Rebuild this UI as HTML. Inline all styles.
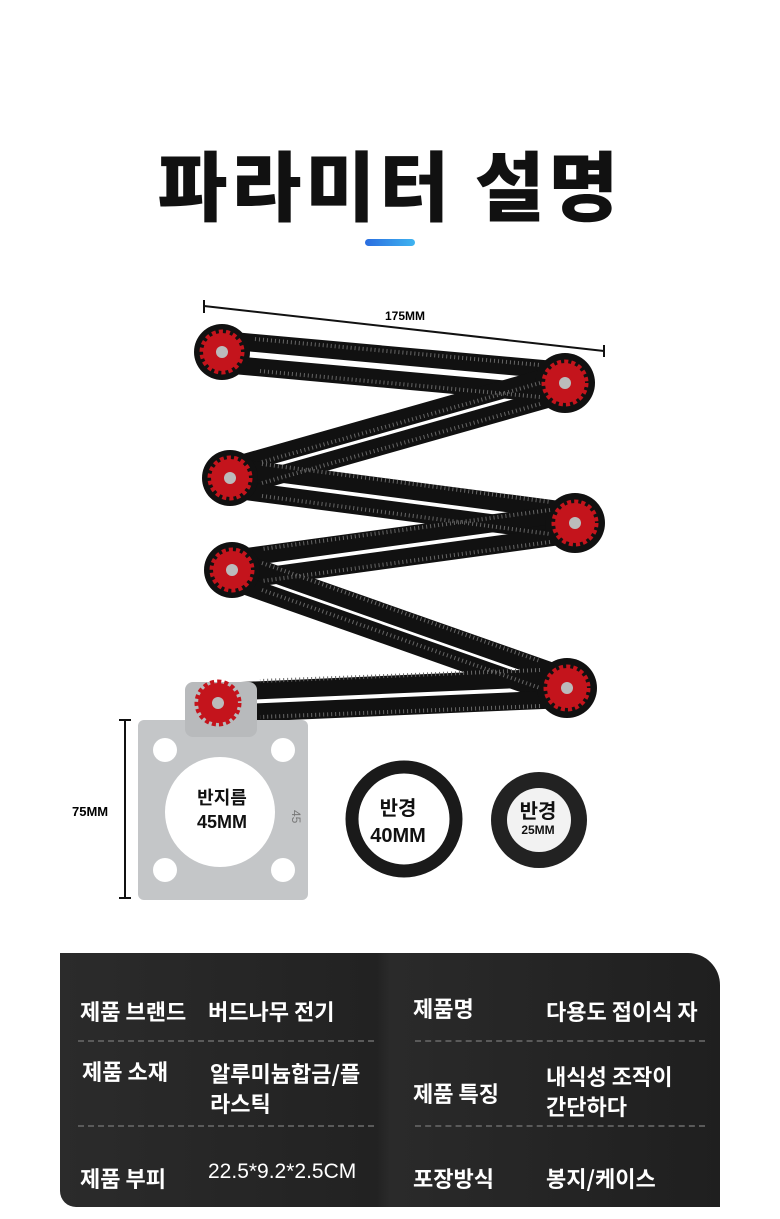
<!DOCTYPE html>
<html><head><meta charset="utf-8"><style>
body{margin:0;background:#fff;}
.wrap{position:relative;width:780px;height:1219px;overflow:hidden;background:#fff;font-family:"Liberation Sans","Noto Sans CJK KR",sans-serif;}
.title{position:absolute;left:0;width:780px;top:132px;text-align:center;font-size:76px;font-weight:900;color:#111;letter-spacing:4px;line-height:100px;font-family:"Noto Sans CJK KR","NanumGothic",sans-serif;}
.bar{position:absolute;left:365px;top:239px;width:50px;height:7px;border-radius:4px;background:linear-gradient(90deg,#2a6de0,#3fb4f0);}
.t{position:absolute;color:#fff;font-size:22px;font-weight:700;font-family:"Noto Sans CJK KR","NanumGothic",sans-serif;line-height:30px;}
</style></head><body><div class="wrap">
<div class="title">파라미터 설명</div>
<div class="bar"></div>
<svg width="780" height="950" style="position:absolute;left:0;top:0">
<line x1="204" y1="306" x2="604" y2="351" stroke="#111" stroke-width="2"/>
<line x1="204" y1="300" x2="204" y2="313" stroke="#111" stroke-width="2"/>
<line x1="604" y1="345" x2="604" y2="357" stroke="#111" stroke-width="2"/>
<text x="405" y="320" font-size="12" font-weight="700" text-anchor="middle" font-family="Liberation Sans">175MM</text>
<g stroke="#111" stroke-width="18" stroke-linecap="round">
<line x1="222" y1="340" x2="565" y2="371"/><line x1="222" y1="364" x2="565" y2="395"/>
<line x1="565" y1="372" x2="230" y2="467"/><line x1="565" y1="394" x2="230" y2="489"/>
<line x1="230" y1="467" x2="575" y2="512"/><line x1="230" y1="489" x2="575" y2="534"/>
<line x1="575" y1="512" x2="232" y2="559"/><line x1="575" y1="534" x2="232" y2="581"/>
<line x1="232" y1="559" x2="567" y2="677"/><line x1="232" y1="581" x2="567" y2="699"/>
<line x1="567" y1="677" x2="218" y2="692"/><line x1="567" y1="699" x2="218" y2="714"/>
</g>
<g fill="#111"><circle cx="222" cy="352" r="28"/><circle cx="565" cy="383" r="30"/><circle cx="230" cy="478" r="28"/><circle cx="575" cy="523" r="30"/><circle cx="232" cy="570" r="28"/><circle cx="567" cy="688" r="30"/></g>
<g stroke="#666" stroke-width="4" stroke-dasharray="1 3">
<line x1="255" y1="339" x2="540" y2="365"/><line x1="260" y1="371" x2="540" y2="397"/>
<line x1="540" y1="383" x2="262" y2="462"/><line x1="540" y1="404" x2="262" y2="483"/>
<line x1="262" y1="464" x2="550" y2="502"/><line x1="262" y1="496" x2="550" y2="534"/>
<line x1="550" y1="510" x2="262" y2="549"/><line x1="550" y1="542" x2="262" y2="581"/>
<line x1="262" y1="563" x2="540" y2="661"/><line x1="262" y1="590" x2="540" y2="688"/>
<line x1="540" y1="670" x2="260" y2="681"/><line x1="540" y1="706" x2="260" y2="717"/>
</g>
<rect x="138" y="720" width="170" height="180" rx="6" fill="#c4c6c8"/>
<rect x="185" y="682" width="72" height="55" rx="8" fill="#b8babc"/>
<circle cx="220" cy="812" r="55" fill="#fff"/>
<circle cx="165" cy="750" r="12" fill="#fff"/><circle cx="283" cy="750" r="12" fill="#fff"/>
<circle cx="165" cy="870" r="12" fill="#fff"/><circle cx="283" cy="870" r="12" fill="#fff"/>
<text x="292" y="810" font-size="12" fill="#777" transform="rotate(90 292 810)">45</text>
<g fill="#c4141c"><circle cx="222" cy="352" r="19"/><circle cx="565" cy="383" r="20"/><circle cx="230" cy="478" r="19"/><circle cx="575" cy="523" r="20"/><circle cx="232" cy="570" r="19"/><circle cx="567" cy="688" r="20"/><circle cx="218" cy="703" r="20"/></g>
<g fill="none" stroke="#c4141c" stroke-width="5" stroke-dasharray="4 3"><circle cx="222" cy="352" r="20"/><circle cx="565" cy="383" r="21"/><circle cx="230" cy="478" r="20"/><circle cx="575" cy="523" r="21"/><circle cx="232" cy="570" r="20"/><circle cx="567" cy="688" r="21"/><circle cx="218" cy="703" r="21"/></g>
<g fill="#bbb"><circle cx="222" cy="352" r="6"/><circle cx="565" cy="383" r="6"/><circle cx="230" cy="478" r="6"/><circle cx="575" cy="523" r="6"/><circle cx="232" cy="570" r="6"/><circle cx="567" cy="688" r="6"/><circle cx="218" cy="703" r="6"/></g>
<line x1="125" y1="720" x2="125" y2="898" stroke="#111" stroke-width="2"/>
<line x1="119" y1="720" x2="131" y2="720" stroke="#111" stroke-width="2"/><line x1="119" y1="898" x2="131" y2="898" stroke="#111" stroke-width="2"/>
<text x="72" y="816" font-size="13" font-weight="700" font-family="Liberation Sans">75MM</text>
<circle cx="404" cy="819" r="52" fill="none" stroke="#1a1a1a" stroke-width="13"/>
<circle cx="539" cy="820" r="48" fill="#222"/><circle cx="539" cy="820" r="32" fill="#f2f2f2"/>
<g font-family="Noto Sans CJK KR,sans-serif" font-weight="700" text-anchor="middle" fill="#111">
<text x="222" y="804" font-size="18">반지름</text><text x="222" y="828" font-size="18" font-family="Liberation Sans">45MM</text>
<text x="398" y="815" font-size="20">반경</text><text x="398" y="842" font-size="20" font-family="Liberation Sans">40MM</text>
<text x="538" y="818" font-size="20">반경</text><text x="538" y="834" font-size="12" font-family="Liberation Sans">25MM</text>
</g>
</svg>
<div style="position:absolute;left:60px;top:953px;width:660px;height:254px;background:linear-gradient(90deg,#2b2b2b 0%,#222 48%,#2a2a2a 50%,#1f1f1f 100%);border-radius:0 32px 0 16px;"></div>
<div style="position:absolute;left:78px;top:1040px;width:296px;border-top:2px dashed #5a5a5a"></div>
<div style="position:absolute;left:78px;top:1125px;width:296px;border-top:2px dashed #5a5a5a"></div>
<div style="position:absolute;left:415px;top:1040px;width:290px;border-top:2px dashed #5a5a5a"></div>
<div style="position:absolute;left:415px;top:1125px;width:290px;border-top:2px dashed #5a5a5a"></div>
<div class="t" style="left:80px;top:996px">제품 브랜드</div>
<div class="t" style="left:208px;top:996px">버드나무 전기</div>
<div class="t" style="left:413px;top:993px">제품명</div>
<div class="t" style="left:546px;top:996px">다용도 접이식 자</div>
<div class="t" style="left:82px;top:1056px">제품 소재</div>
<div class="t" style="left:210px;top:1058px">알루미늄합금/플<br>라스틱</div>
<div class="t" style="left:413px;top:1078px">제품 특징</div>
<div class="t" style="left:546px;top:1061px">내식성 조작이<br>간단하다</div>
<div class="t" style="left:80px;top:1163px">제품 부피</div>
<div class="t" style="left:208px;top:1157px;font-weight:400;font-family:'Liberation Sans',sans-serif;font-size:21px">22.5*9.2*2.5CM</div>
<div class="t" style="left:413px;top:1163px">포장방식</div>
<div class="t" style="left:546px;top:1163px">봉지/케이스</div>
</div></body></html>
